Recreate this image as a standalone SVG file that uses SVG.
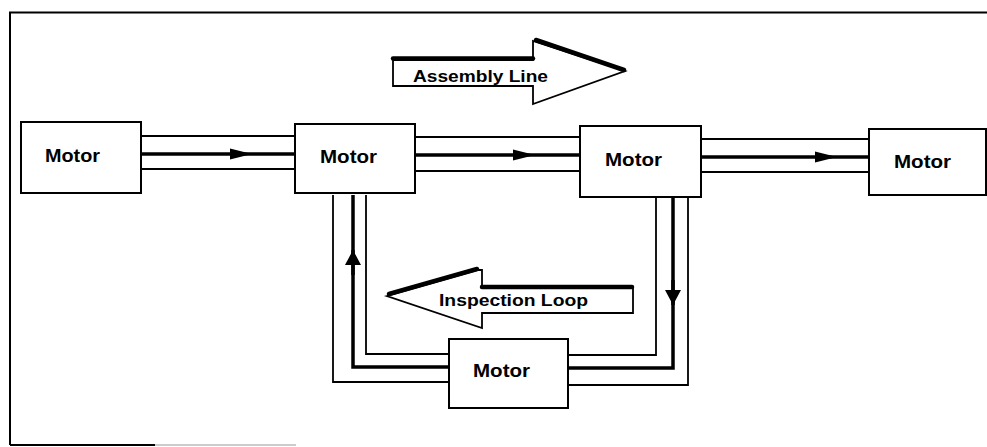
<svg xmlns="http://www.w3.org/2000/svg" width="987" height="447" viewBox="0 0 987 447">
<defs>
<style>
.box{fill:#fff;stroke:#000;stroke-width:2}
.lbl{font-family:"Liberation Sans",Arial,sans-serif;font-weight:bold;font-size:18px;fill:#000}
.big{font-family:"Liberation Sans",Arial,sans-serif;font-weight:bold;font-size:16px;fill:#000}
.thin{fill:none;stroke:#000;stroke-width:1.8}
.thick{fill:none;stroke:#000;stroke-width:3.5}
.shade{fill:none;stroke:#000;stroke-width:4.5;stroke-linecap:round}
.outline{fill:#fff;stroke:#000;stroke-width:1.8;stroke-linejoin:miter}
</style>
<marker id="ah" markerUnits="userSpaceOnUse" markerWidth="24" markerHeight="12" refX="22" refY="6" orient="auto" viewBox="0 0 24 12">
<path d="M0,0.5 L22,6 L0,11.5 z" fill="#000"/>
</marker>
<marker id="av" markerUnits="userSpaceOnUse" markerWidth="17" markerHeight="17" refX="15" refY="8" orient="auto" viewBox="0 0 17 17">
<path d="M0,0 L15,8 L0,16 z" fill="#000"/>
</marker>
</defs>
<rect width="987" height="447" fill="#fff"/>

<g id="frame">
<path d="M10 445 L10 12.5 L987 12.5" fill="none" stroke="#000" stroke-width="2"/>
<line x1="10" y1="445" x2="155" y2="445" stroke="#000" stroke-width="2"/>
<line x1="155" y1="445" x2="296" y2="445" stroke="#bbb" stroke-width="1.5"/>
</g>

<g id="connectors">
<!-- Motor1 -> Motor2 -->
<line class="thin" x1="141" y1="136" x2="295" y2="136"/>
<line class="thin" x1="141" y1="169" x2="295" y2="169"/>
<path class="thick" d="M141 154 L252 154 L295 154" marker-mid="url(#ah)"/>
<!-- Motor2 -> Motor3 -->
<line class="thin" x1="415" y1="137" x2="580" y2="137"/>
<line class="thin" x1="415" y1="171" x2="580" y2="171"/>
<path class="thick" d="M415 155 L535 155 L580 155" marker-mid="url(#ah)"/>
<!-- Motor3 -> Motor4 -->
<line class="thin" x1="701" y1="139" x2="869" y2="139"/>
<line class="thin" x1="701" y1="172" x2="869" y2="172"/>
<path class="thick" d="M701 157 L837 157 L869 157" marker-mid="url(#ah)"/>
<!-- Loop left side (Motor5 -> Motor2) -->
<path class="thin" d="M333 195 L333 382 L449 382"/>
<path class="thick" d="M353 195 L353 367 L449 367"/>
<path class="thin" d="M366 195 L366 354 L449 354"/>
<path class="thick" d="M353 275 L353 250" marker-end="url(#av)"/>
<!-- Loop right side (Motor3 -> Motor5) -->
<path class="thin" d="M656 197 L656 355 L568 355"/>
<path class="thick" d="M673 197 L673 368 L568 368"/>
<path class="thin" d="M688 197 L688 385 L568 385"/>
<path class="thick" d="M673 280 L673 305" marker-end="url(#av)"/>
</g>

<g id="assembly-line">
<polygon class="outline" points="393,60 533,60 533,41 625,71 533,104 533,86 393,86"/>
<path class="shade" d="M393 58.5 L533 58.5"/>
<path class="shade" d="M536 40 L624 70"/>
<text class="big" x="413" y="82" textLength="135" lengthAdjust="spacingAndGlyphs">Assembly Line</text>
</g>

<g id="inspection-loop">
<polygon class="outline" points="387,296 478,270 482,270 482,288 633,288 633,313 482,313 482,328"/>
<path class="shade" d="M482 287 L632 287"/>
<path class="shade" d="M389 294 L477 269"/>
<text class="big" x="439" y="306" textLength="149" lengthAdjust="spacingAndGlyphs">Inspection Loop</text>
</g>

<g id="motor1">
<rect class="box" x="21" y="122" width="120" height="71"/>
<text class="lbl" x="45" y="162" textLength="55" lengthAdjust="spacingAndGlyphs">Motor</text>
</g>
<g id="motor2">
<rect class="box" x="295" y="124" width="120" height="69"/>
<text class="lbl" x="320" y="163" textLength="57" lengthAdjust="spacingAndGlyphs">Motor</text>
</g>
<g id="motor3">
<rect class="box" x="580" y="126" width="121" height="71"/>
<text class="lbl" x="605" y="166" textLength="57" lengthAdjust="spacingAndGlyphs">Motor</text>
</g>
<g id="motor4">
<rect class="box" x="869" y="129" width="117" height="66"/>
<text class="lbl" x="894" y="168" textLength="57" lengthAdjust="spacingAndGlyphs">Motor</text>
</g>
<g id="motor5">
<rect class="box" x="449" y="339" width="119" height="69"/>
<text class="lbl" x="473" y="377" textLength="57" lengthAdjust="spacingAndGlyphs">Motor</text>
</g>
</svg>
